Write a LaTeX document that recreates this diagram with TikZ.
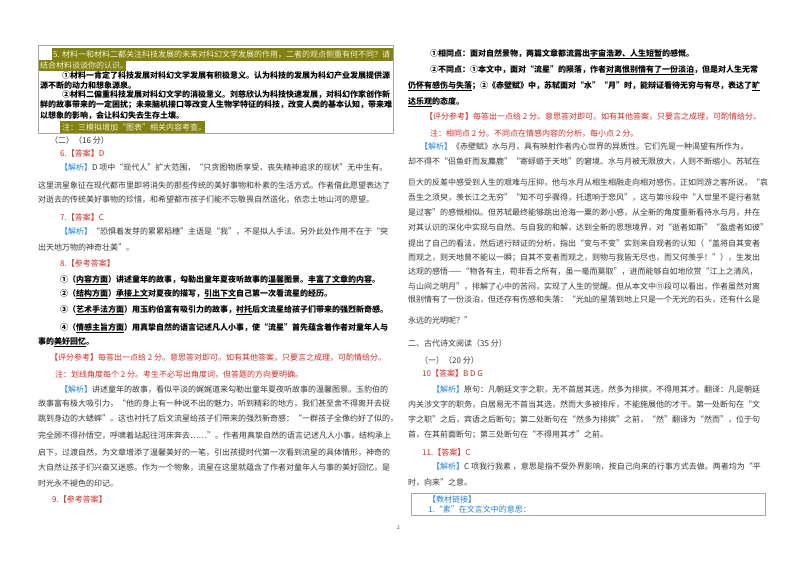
\documentclass[tikz,border=0pt]{standalone}
\usepackage{fontspec}
\setmainfont{Noto Sans CJK SC}
\XeTeXlinebreaklocale "zh"
\definecolor{txt}{RGB}{55,55,55}
\definecolor{ans}{RGB}{205,45,45}
\definecolor{jx}{RGB}{40,130,215}
\definecolor{olv}{RGB}{130,130,20}
\definecolor{hl}{RGB}{245,245,215}
\newcommand{\JX}{\textcolor{jx}{【解析】}}
\newcommand{\ul}[1]{\underline{#1}}
\begin{document}
\begin{tikzpicture}[x=1pt,y=1pt,
  t/.style={anchor=west,inner sep=0pt,font=\fontsize{8}{9}\selectfont,text=txt},
  b/.style={t,text=black,font=\fontsize{8}{9}\selectfont\bfseries},
  r/.style={t,text=ans},
  h/.style={t,text=hl}]
\useasboundingbox (0,0) rectangle (800,-566);
\fill[white] (0,0) rectangle (800,-566);
% box
\draw[gray!70,line width=0.8pt] (38,-45) rectangle (393,-133);
\fill[olv] (52,-48) rectangle (393,-61);
\fill[olv] (39,-60) rectangle (126,-71);
\fill[olv] (60,-121) rectangle (205,-133);
\node[h] (a1) at (53,-55) {5. 材料一和材料二都关注科技发展的未来对科幻文学发展的作用，二者的观点侧重有何不同？请};
\node[h] (a2) at (40,-65) {结合材料谈谈你的认识。};
\node[b] (a3) at (62,-75) {①材料一肯定了科技发展对科幻文学发展有积极意义。认为科技的发展为科幻产业发展提供源};
\node[b] (a4) at (40,-85) {源不断的动力和想象源泉。};
\node[b] (a5) at (62,-95) {②材料二偏重科技发展对科幻文学的消极意义。刘慈欣认为科技快速发展，对科幻作家创作新};
\node[b] (a6) at (40,-105) {鲜的故事带来的一定困扰；未来脑机接口等改变人生物学特征的科技，改变人类的基本认知，带来难};
\node[b] (a7) at (40,-116) {以想象的影响，会让科幻失去生存土壤。};
\node[h] (a8) at (62,-127) {注：三模拟增加“图表”相关内容考查。};
\node[t] (a9) at (50,-140) {（二）（16 分）};
\node[r] (a10) at (60,-153) {6.【答案】D};
\node[t] (a11) at (60,-168) {\JX D 项中“现代人”扩大范围，“只贪图物质享受，丧失精神追求的现状”无中生有。};
\node[t] (a12) at (38,-185) {这里流星象征在现代都市里即将消失的那些传统的美好事物和朴素的生活方式。作者借此愿望表达了};
\node[t] (a13) at (38,-200) {对逝去的传统美好事物的珍惜，和希望都市孩子们能不忘敬畏自然造化，依恋土地山河的愿望。};
\node[r] (a14) at (60,-217) {7.【答案】C};
\node[t] (a15) at (60,-232) {\JX “恐惧着发芽的累累稻穗”主语是“我”，不是拟人手法。另外此处作用不在于“突};
\node[t] (a16) at (38,-247) {出天地万物的神奇壮美”。};
\node[r] (a17) at (60,-263) {8.【参考答案】};
\node[b] (a18) at (60,-280) {①（\ul{内容方面}）讲述童年的故事，勾勒出童年夏夜听故事的\ul{温馨}图景。\ul{丰富了文章的内容}。};
\node[b] (a19) at (60,-294) {②（\ul{结构方面}）\ul{承接上文}对夏夜的描写，\ul{引出下文}自己第一次看流星的经历。};
\node[b] (a20) at (60,-310) {③（\ul{艺术手法方面}）用玉豹伯富有吸引力的故事，\ul{衬托}后文流星给孩子们带来的强烈新奇感。};
\node[b] (a21) at (60,-328) {④（\ul{情感主旨方面}）用真挚自然的语言记述凡人小事，使“流星”首先蕴含着作者对童年人与};
\node[b] (a22) at (38,-342) {事的\ul{美好回忆}。};
\node[r] (a23) at (50,-358) {【评分参考】每答出一点给 2 分。意思答对即可。如有其他答案，只要言之成理，可酌情给分。};
\node[r] (a24) at (55,-375) {注：划线角度每个 2 分。考生不必写出角度词，但答题的方向要明确。};
\node[t] (a25) at (60,-390) {\JX 讲述童年的故事，看似平淡的娓娓道来勾勒出童年夏夜听故事的温馨图景。玉豹伯的};
\node[t] (a26) at (38,-404) {故事富有极大吸引力，“他的身上有一种说不出的魅力，听到精彩的地方，我们甚至舍不得离开去捉};
\node[t] (a27) at (38,-419) {跳到身边的大蟋蟀”。这也衬托了后文流星给孩子们带来的强烈新奇感：“一群孩子全像约好了似的，};
\node[t] (a28) at (38,-436) {完全顾不得孙悟空，呼啸着站起往河床奔去……”。作者用真挚自然的语言记述凡人小事，结构承上};
\node[t] (a29) at (38,-453) {启下，过渡自然，为文章增添了温馨美好的一笔，引出孩提时代第一次看到流星的具体情形，神奇的};
\node[t] (a30) at (38,-468) {大自然让孩子们兴奋又迷惑。作为一个物象，流星在这里就蕴含了作者对童年人与事的美好回忆，是};
\node[t] (a31) at (38,-483) {时光永不褪色的印记。};
\node[r] (a32) at (52,-499) {9.【参考答案】};
% right column
\node[b] (b1) at (430,-54) {①相同点：面对自然景物，两篇文章都流露出\ul{宇宙浩渺、人生短暂}的感慨。};
\node[b] (b2) at (430,-70) {②不同点：①本文中，面对“流星”的陨落，作者\ul{对离恨别情有了一份淡泊}，但是对人生无常};
\node[b] (b3) at (408,-86) {\ul{仍怀有感伤与失落}；②《赤壁赋》中，苏轼面对“水”“月”时，能辩证看待无穷与有尽，表达了\ul{旷}};
\node[b] (b4) at (408,-102) {\ul{达乐观}的态度。};
\node[r] (b5) at (425,-117) {【评分参考】每答出一点给 2 分。意思答对即可。如有其他答案，只要言之成理，可酌情给分。};
\node[r] (b6) at (430,-134) {注：相同点 2 分。不同点在情感内容的分析，每小点 2 分。};
\node[t] (b7) at (420,-147) {\JX《赤壁赋》水与月，具有映射作者内心世界的异质性。它们先是一种渴望有所作为，};
\node[t] (b8) at (408,-162) {却不得不“侣鱼虾而友麋鹿”“寄蜉蝣于天地”的窘境。水与月被无限放大，人则不断缩小。苏轼在};
\node[t] (b9) at (408,-183) {巨大的反差中感受到人生的艰难与压抑，他与水月从相生相融走向相对感伤，正如同游之客所说，“哀};
\node[t] (b10) at (408,-198) {吾生之须臾，羡长江之无穷”“知不可乎骤得，托遗响于悲风”，这与第⑩段中“人世里不是行者就};
\node[t] (b11) at (408,-213) {是过客”的感慨相似。但苏轼最终能够跳出沧海一粟的渺小感，从全新的角度重新看待水与月，并在};
\node[t] (b12) at (408,-228) {对其认识的深化中实现与自然、与自我的和解，达到全新的思想境界，对“逝者如斯”“盈虚者如彼”};
\node[t] (b13) at (408,-243) {提出了自己的看法，然后进行辩证的分析，指出“变与不变”实则来自观者的认知（“盖将自其变者};
\node[t] (b14) at (408,-258) {而观之，则天地曾不能以一瞬；自其不变者而观之，则物与我皆无尽也，而又何羡乎！”），生发出};
\node[t] (b15) at (408,-272) {达观的感悟——“物各有主，苟非吾之所有，虽一毫而莫取”，进而能够自如地欣赏“江上之清风，};
\node[t] (b16) at (408,-287) {与山间之明月”，排解了心中的苦闷，实现了人生的觉醒。但从本文中⑪段可以看出，作者虽然对离};
\node[t] (b17) at (408,-300) {恨别情有了一份淡泊，但还存有伤感和失落：“光灿的星落到地上只是一个无光的石头，还有什么是};
\node[t] (b18) at (408,-320) {永远的光明呢？”};
\node[t] (b19) at (408,-343) {二、古代诗文阅读（35 分）};
\node[t] (b20) at (420,-360) {（一）（20 分）};
\node[r] (b21) at (422,-373) {10【答案】B D G};
\node[t] (b22) at (432,-390) {\JX 原句：凡朝廷文字之职，无不首居其选，然多为排摈，不得用其才。翻译：凡是朝廷};
\node[t] (b23) at (408,-405) {内关涉文字的职务，白居易无不首当其选，然而大多被排斥，不能施展他的才干。第一处断句在“文};
\node[t] (b24) at (408,-420) {字之职”之后，宾语之后断句；第二处断句在“然多为排摈”之前，“然”翻译为“然而”，位于句};
\node[t] (b25) at (408,-435) {首，在其前面断句；第三处断句在“不得用其才”之前。};
\node[r] (b26) at (422,-452) {11.【答案】C};
\node[t] (b27) at (432,-467) {\JX C 项我行我素 ，意思是指不受外界影响，按自己向来的行事方式去做。两者均为“平};
\node[t] (b28) at (408,-483) {时，向来”之意。};
\draw[gray!70,line width=0.8pt] (411,-493) rectangle (765,-515);
\node[t,text=jx] (b29) at (428,-499) {【教材链接】};
\node[t,text=jx] (b30) at (428,-509) {1.“素”在文言文中的意思：};
\node[t,font=\fontsize{5}{6}\selectfont] (pg) at (397,-528) {2};
\end{tikzpicture}
\end{document}
